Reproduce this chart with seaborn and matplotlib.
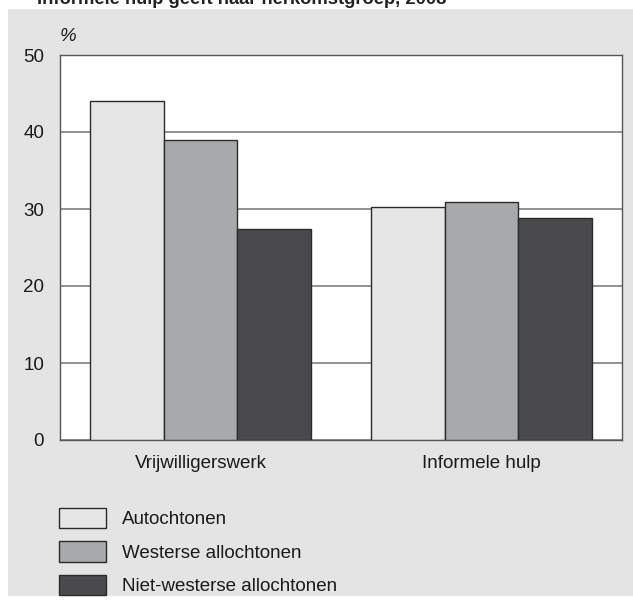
import pandas as pd
import matplotlib.pyplot as plt
from matplotlib.patches import Rectangle
import seaborn as sns

# Data
activities = ['Vrijwilligerswerk', 'Informele hulp']
groups = ['Autochtonen', 'Westerse allochtonen', 'Niet-westerse allochtonen']
autochtonen = [44.0, 30.2]
westerse = [39.0, 30.9]
niet_westerse = [27.4, 28.8]
colors = ['#e6e6e6', '#a8a9ab', '#4a4a4c']

df = pd.DataFrame({
    'activiteit': activities * 3,
    'groep': [g for g in groups for _ in activities],
    'pct': autochtonen + westerse + niet_westerse,
})

sns.set_style('white')
plt.rcParams['font.family'] = ['Liberation Sans', 'DejaVu Sans']

fig = plt.figure(figsize=(6.33, 6.05), dpi=100)
W, H = 633, 605
FS = 13.5

# grey background panel
fig.patches.append(Rectangle((8 / W, (H - 596) / H), 1 - 8 / W, (596 - 9) / H,
                             transform=fig.transFigure, facecolor='#e3e4e3',
                             edgecolor='none', zorder=-5))

# title, cut off at the top like in the reference
fig.text(37 / W, (H - 4) / H, 'Informele hulp geeft naar herkomstgroep, 2008',
         fontsize=13.2, fontweight='bold', va='baseline', ha='left', color='#222222')

ax = fig.add_axes([60 / W, (H - 440) / H, (622 - 60) / W, (440 - 55) / H])
ax.set_zorder(2)
sns.barplot(data=df, x='activiteit', y='pct', hue='groep', hue_order=groups,
            palette=colors, width=0.79, edgecolor='#2b2b2b', linewidth=1.0,
            saturation=1, ax=ax, zorder=3)

ax.set_ylim(0, 50)
ax.set_yticks([0, 10, 20, 30, 40, 50])
ax.yaxis.grid(True, color='#7f7f7f', linewidth=1.2, zorder=0)
ax.set_axisbelow(True)
ax.set_xlabel('')
ax.set_ylabel('')
ax.tick_params(axis='both', length=0, labelsize=FS, colors='#1a1a1a')
ax.tick_params(axis='y', pad=11.5)
ax.tick_params(axis='x', pad=11)
for s in ax.spines.values():
    s.set_color('#555555')
    s.set_linewidth(1.0)
ax.set_facecolor('white')

ax.text(0.0, 1.025, '%', transform=ax.transAxes, fontsize=FS,
        style='italic', ha='left', va='bottom', color='#1a1a1a')

handles, labels = ax.get_legend_handles_labels()
ax.get_legend().remove()
leg = fig.legend(handles, labels, loc='upper left',
                 bbox_to_anchor=(59 / W, (H - 508) / H), frameon=False,
                 fontsize=FS, handlelength=2.5, handleheight=1.3,
                 handletextpad=0.85, labelspacing=0.68, borderpad=0,
                 borderaxespad=0, labelcolor='#1a1a1a')
leg.set_zorder(3)

plt.savefig('out.png', dpi=100)
